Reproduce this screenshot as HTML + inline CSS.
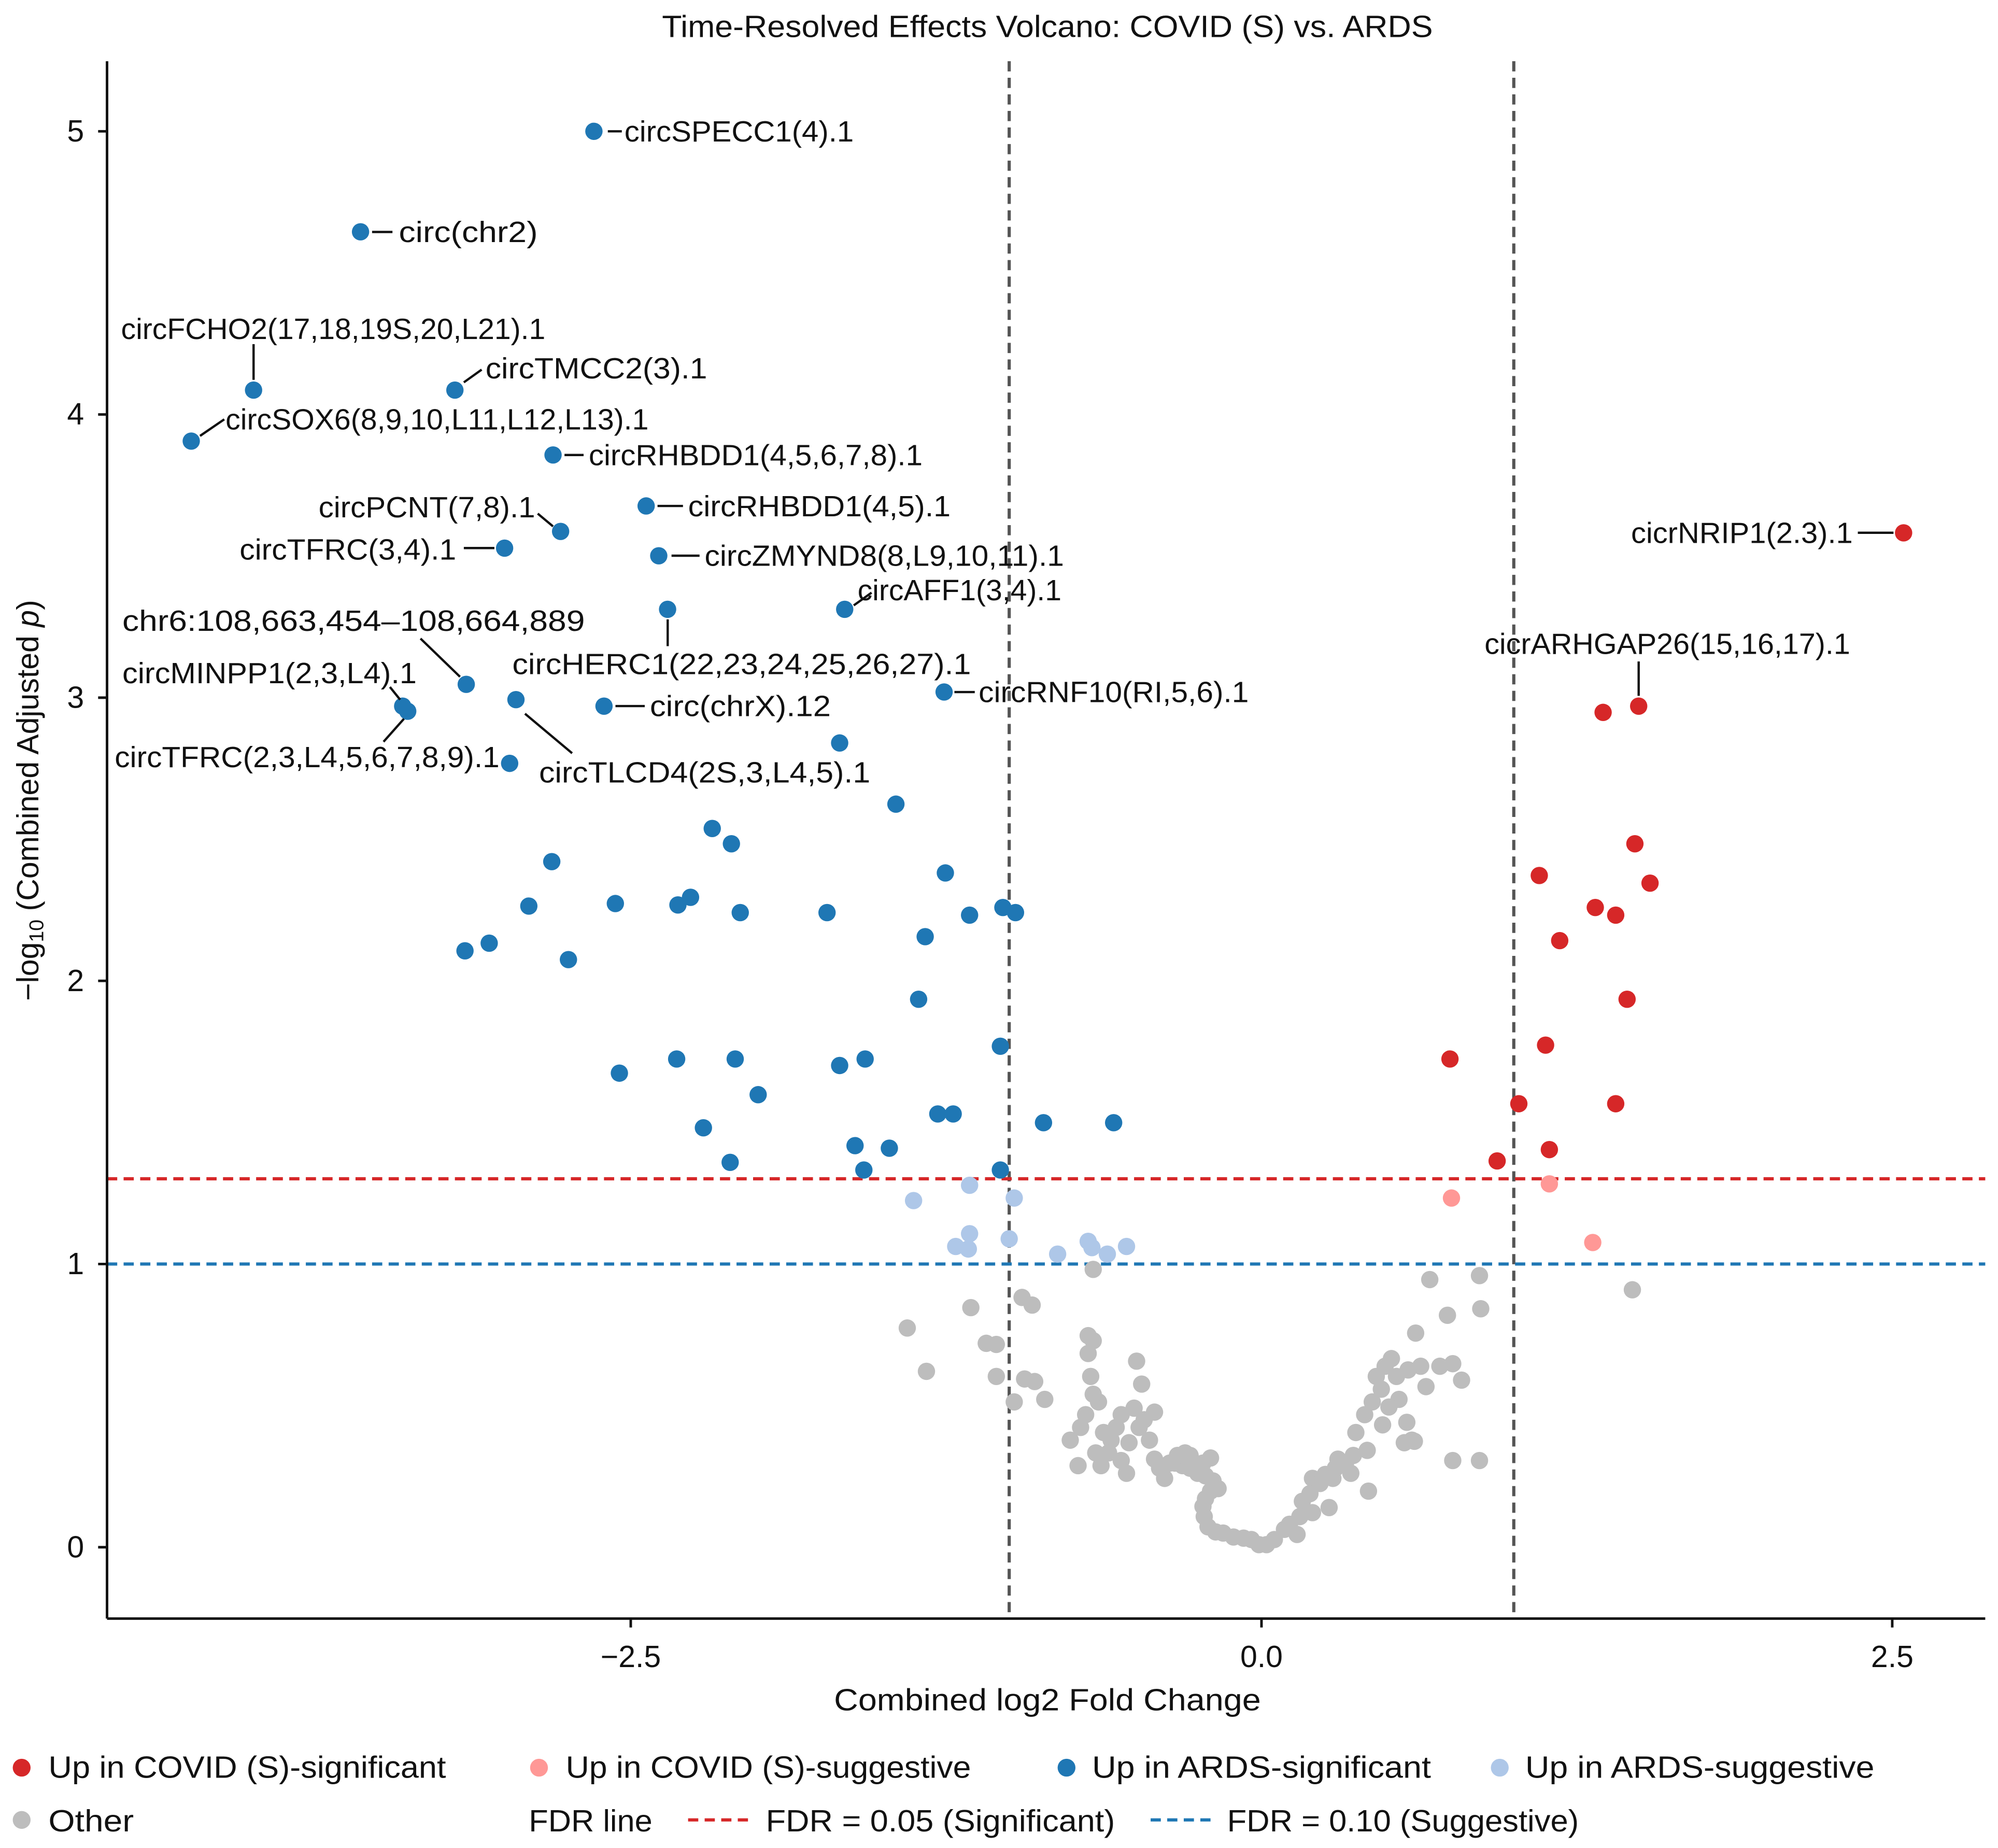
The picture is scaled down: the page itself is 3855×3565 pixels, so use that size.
<!DOCTYPE html>
<html><head><meta charset="utf-8"><style>
html,body{margin:0;padding:0;background:#fff}
svg{display:block}
text{font-family:"Liberation Sans",sans-serif;fill:#111}
</style></head><body>
<svg id="chart" width="3855" height="3565" viewBox="0 0 1568 1450" xmlns="http://www.w3.org/2000/svg">
<rect width="1568" height="1450" fill="#fff"/>
<text x="822" y="29" font-size="24" text-anchor="middle" textLength="605" lengthAdjust="spacingAndGlyphs">Time-Resolved Effects Volcano: COVID (S) vs. ARDS</text>
<g id="grid"></g>
<g id="points"></g>
<g id="labels" font-size="23"></g>
<g id="axes"></g>
<text x="822" y="1342" font-size="24" text-anchor="middle" textLength="335" lengthAdjust="spacingAndGlyphs">Combined log2 Fold Change</text>
<text transform="translate(30,628) rotate(-90)" font-size="24" text-anchor="middle">−log<tspan font-size="16" dy="4">10</tspan><tspan dy="-4"> (Combined Adjusted </tspan><tspan font-style="italic">p</tspan>)</text>
<g id="legend" font-size="24">
  <circle cx="17" cy="1387" r="7" fill="#d62728"/>
  <text x="38" y="1395" textLength="312" lengthAdjust="spacingAndGlyphs">Up in COVID (S)-significant</text>
  <circle cx="423" cy="1387" r="7" fill="#ff9896"/>
  <text x="444" y="1395" textLength="318" lengthAdjust="spacingAndGlyphs">Up in COVID (S)-suggestive</text>
  <circle cx="837" cy="1387" r="7" fill="#1f77b4"/>
  <text x="857" y="1395" textLength="266" lengthAdjust="spacingAndGlyphs">Up in ARDS-significant</text>
  <circle cx="1177" cy="1387" r="7" fill="#aec7e8"/>
  <text x="1197" y="1395" textLength="274" lengthAdjust="spacingAndGlyphs">Up in ARDS-suggestive</text>
  <circle cx="17" cy="1428" r="7" fill="#bdbdbd"/>
  <text x="38" y="1437" textLength="67" lengthAdjust="spacingAndGlyphs">Other</text>
  <text x="415" y="1437" textLength="97" lengthAdjust="spacingAndGlyphs">FDR line</text>
  <line x1="540" y1="1428" x2="590" y2="1428" stroke="#d62728" stroke-width="2.5" stroke-dasharray="8,5"/>
  <text x="601" y="1437" textLength="274" lengthAdjust="spacingAndGlyphs">FDR = 0.05 (Significant)</text>
  <line x1="903" y1="1428" x2="953" y2="1428" stroke="#1f77b4" stroke-width="2.5" stroke-dasharray="8,5"/>
  <text x="963" y="1437" textLength="276" lengthAdjust="spacingAndGlyphs">FDR = 0.10 (Suggestive)</text>
</g>
</svg>
<script>
const xTicks = [-2.5, 0, 2.5];
const xTickLabels = ["−2.5", "0.0", "2.5"];
const yTicks = [0, 1, 2, 3, 4, 5];
const yTickLabels = ["0", "1", "2", "3", "4", "5"];
const fdrSig = 1.301;
const fdrSug = 1.0;
const fcThresholds = [-1, 1];

const ardsSigX = [-2.646,-3.571,-3.995,-3.197,-4.242,-2.808,-2.439,-2.778,-3.0,-2.389,-1.652,-2.354,-3.152,-1.258,-2.955,-3.404,-3.384,-2.606,-1.672,-2.98,-1.449,-2.177,-2.101,-2.813,-1.253,-2.263,-2.904,-2.561,-2.313,-2.066,-1.722,-1.157,-1.025,-0.975,-1.333,-3.061,-3.157,-2.747,-1.359,-1.035,-2.545,-2.318,-2.086,-1.672,-1.571,-1.995,-1.283,-1.222,-0.864,-0.586,-2.212,-1.611,-1.475,-2.106,-1.576,-1.035];
const ardsSigY = [5.0,4.645,4.086,4.086,3.906,3.857,3.677,3.587,3.528,3.501,3.312,3.312,3.047,3.02,2.993,2.97,2.952,2.97,2.84,2.768,2.624,2.538,2.484,2.421,2.381,2.295,2.264,2.273,2.268,2.241,2.241,2.232,2.259,2.241,2.156,2.133,2.106,2.075,1.935,1.769,1.674,1.724,1.724,1.701,1.724,1.598,1.53,1.53,1.499,1.499,1.481,1.418,1.409,1.359,1.332,1.332];
const ardsSugX = [-1.379,-1.157,-0.98,-1.157,-1.212,-1.162,-1.0,-0.808,-0.687,-0.672,-0.611,-0.535];
const ardsSugY = [1.224,1.278,1.233,1.107,1.062,1.053,1.089,1.035,1.08,1.058,1.035,1.062];
const covidSigX = [2.545,1.495,1.354,1.48,1.101,1.54,1.323,1.404,1.182,1.449,0.747,1.126,1.02,1.404,0.934,1.141];
const covidSigY = [3.582,2.97,2.948,2.484,2.372,2.345,2.259,2.232,2.142,1.935,1.724,1.773,1.566,1.566,1.364,1.404];
const covidSugX = [0.753,1.141,1.313];
const covidSugY = [1.233,1.283,1.076];
const otherX = [0.667,0.864,0.737,0.869,0.611,0.758,0.793,0.652,0.515,0.49,0.455,0.475,0.535,0.581,0.631,0.707,0.545,0.505,0.439,0.409,0.374,0.48,0.576,0.596,0.566,0.419,0.364,0.333,0.293,0.253,0.202,0.354,0.283,0.303,0.232,0.192,0.162,0.424,0.268,0.202,0.152,0.111,0.141,0.091,0.051,0.02,-0.01,-0.04,-0.071,-0.111,-0.152,-0.182,-0.212,-0.227,-0.232,-0.222,-0.202,-0.172,-0.192,-0.222,-0.253,-0.283,-0.313,-0.343,-0.283,-0.232,-0.202,-0.303,-0.333,-0.364,-0.404,-0.384,-0.424,-0.444,-0.485,-0.505,-0.556,-0.576,-0.596,-0.606,-0.636,-0.535,-0.556,-0.525,-0.657,-0.626,-0.646,-0.667,-0.697,-0.717,-0.677,-0.687,-0.687,-0.667,-0.495,-0.475,-0.424,-0.465,-0.758,-0.727,-0.859,-0.899,-0.939,-0.98,-1.051,-0.909,-0.949,-1.091,-1.051,-1.152,-1.404,-1.328,-0.667,0.864,0.758,0.606,1.47];
const otherY = [0.945,0.959,0.819,0.842,0.756,0.648,0.59,0.567,0.666,0.639,0.603,0.558,0.603,0.626,0.639,0.639,0.522,0.495,0.513,0.468,0.405,0.432,0.441,0.378,0.369,0.342,0.324,0.297,0.279,0.257,0.243,0.261,0.243,0.311,0.225,0.189,0.162,0.198,0.14,0.122,0.108,0.081,0.045,0.063,0.027,0.009,0.009,0.027,0.032,0.036,0.05,0.054,0.072,0.108,0.144,0.171,0.198,0.207,0.234,0.252,0.261,0.279,0.288,0.297,0.324,0.297,0.315,0.333,0.324,0.297,0.279,0.243,0.311,0.378,0.423,0.491,0.468,0.423,0.378,0.333,0.288,0.261,0.306,0.369,0.333,0.405,0.513,0.54,0.468,0.423,0.603,0.684,0.747,0.729,0.657,0.576,0.477,0.45,0.378,0.288,0.522,0.585,0.594,0.513,0.603,0.855,0.882,0.72,0.716,0.846,0.774,0.621,0.981,0.306,0.306,0.374,0.909];

const NS = "http://www.w3.org/2000/svg";
const L = 84, R = 1558, T = 48, B = 1270;
function sx(v){ return 990 + v * 198; }
function sy(v){ return 1214 - v * 222.2; }
function mk(tag, attrs, parent){
  const e = document.createElementNS(NS, tag);
  for (const k in attrs) e.setAttribute(k, attrs[k]);
  parent.appendChild(e);
  return e;
}
const grid = document.getElementById('grid');
const pts = document.getElementById('points');
const axes = document.getElementById('axes');

fcThresholds.forEach(function(t){
  const ln = mk('line', {x1: sx(t), x2: sx(t), y1: T, y2: B, stroke: '#555', 'stroke-width': 2.5, 'stroke-dasharray': '8,5'}, grid);
  
  
});
const l1 = mk('line', {x1: L, x2: R, y1: sy(fdrSig), y2: sy(fdrSig), stroke: '#d62728', 'stroke-width': 2.5, 'stroke-dasharray': '8,5'}, grid);


const l2 = mk('line', {x1: L, x2: R, y1: sy(fdrSug), y2: sy(fdrSug), stroke: '#1f77b4', 'stroke-width': 2.5, 'stroke-dasharray': '8,5'}, grid);



function series(xs, ys, color, name){
  xs.forEach(function(x, i){
    const c = mk('circle', {cx: sx(x), cy: sy(ys[i]), r: 6.8, fill: color}, pts);
    
    
  });
}
series(otherX, otherY, '#bdbdbd', 'point-other');
series(ardsSugX, ardsSugY, '#aec7e8', 'point-ards-suggestive');
series(covidSugX, covidSugY, '#ff9896', 'point-covid-suggestive');
series(ardsSigX, ardsSigY, '#1f77b4', 'point-ards-significant');
series(covidSigX, covidSigY, '#d62728', 'point-covid-significant');

const ya = mk('line', {x1: L, x2: L, y1: T, y2: B, stroke: '#111', 'stroke-width': 2}, axes);


const xa = mk('line', {x1: L, x2: R, y1: B, y2: B, stroke: '#111', 'stroke-width': 2}, axes);


yTicks.forEach(function(v, i){
  const tk = mk('line', {x1: L - 7, x2: L, y1: sy(v), y2: sy(v), stroke: '#111', 'stroke-width': 2}, axes);
  
  
  const tx = mk('text', {x: L - 18, y: sy(v) + 8, 'font-size': 24, 'text-anchor': 'end'}, axes);
  tx.textContent = yTickLabels[i];
  
  
});
xTicks.forEach(function(v, i){
  const tk = mk('line', {x1: sx(v), x2: sx(v), y1: B, y2: B + 7, stroke: '#111', 'stroke-width': 2}, axes);
  
  
  const tx = mk('text', {x: sx(v), y: B + 38, 'font-size': 24, 'text-anchor': 'middle'}, axes);
  tx.textContent = xTickLabels[i];
  
  
});

const labelsG = document.getElementById('labels');
const annText = ["circSPECC1(4).1","circ(chr2)","circFCHO2(17,18,19S,20,L21).1","circTMCC2(3).1","circSOX6(8,9,10,L11,L12,L13).1","circRHBDD1(4,5,6,7,8).1","circPCNT(7,8).1","circRHBDD1(4,5).1","circTFRC(3,4).1","circZMYND8(8,L9,10,11).1","circAFF1(3,4).1","chr6:108,663,454–108,664,889","circHERC1(22,23,24,25,26,27).1","circMINPP1(2,3,L4).1","circRNF10(RI,5,6).1","circ(chrX).12","circTFRC(2,3,L4,5,6,7,8,9).1","circTLCD4(2S,3,L4,5).1","cicrNRIP1(2.3).1","cicrARHGAP26(15,16,17).1"];
const annLayout = [
  [490,111,'start',477,103,488,103],
  [313,190,'start',292,182,308,182],
  [95,266,'start',199,270,199,298],
  [381,297,'start',364,300,378,290],
  [177,337,'start',157,342,176,329],
  [462,365,'start',443,357,458,357],
  [420,406,'end',422,403,434,413],
  [540,405,'start',516,397,536,397],
  [358,439,'end',364,430,388,430],
  [553,444,'start',527,436,549,436],
  [673,471,'start',670,475,684,465],
  [96,495,'start',330,501,361,531],
  [402,529,'start',524,486,524,507],
  [96,536,'start',306,539,314,549],
  [768,551,'start',749,543,765,543],
  [510,562,'start',483,554,506,554],
  [392,602,'end',301,582,317,564],
  [423,614,'start',412,560,449,591],
  [1454,426,'end',1458,418,1486,418],
  [1452,513,'end',1286,519,1286,546]
];
const annWidth = [180,109,333,174,332,262,170,206,170,282,160,363,360,231,212,142,302,260,174,287];
annText.forEach(function(s, i){
  const a = annLayout[i];
  const ln = mk('line', {x1: a[3], y1: a[4], x2: a[5], y2: a[6], stroke: '#111', 'stroke-width': 1.8}, labelsG);
  
  
  const t = mk('text', {x: a[0], y: a[1], 'text-anchor': a[2], textLength: annWidth[i], lengthAdjust: 'spacingAndGlyphs'}, labelsG);
  t.textContent = s;
  
  
});
</script>
</body></html>
